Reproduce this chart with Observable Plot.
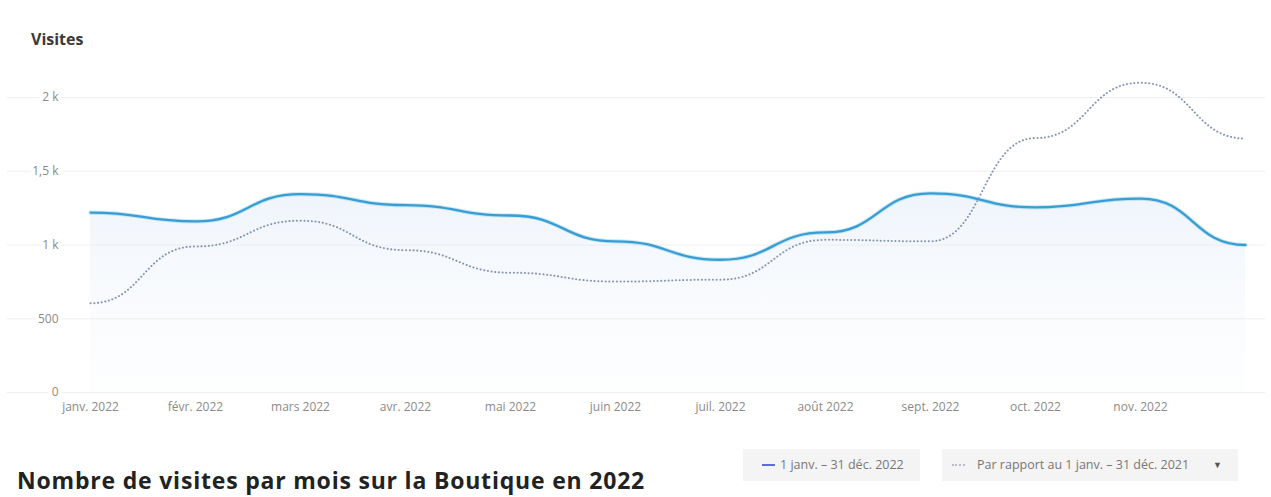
<!DOCTYPE html>
<html><head><meta charset="utf-8">
<script src="https://cdn.jsdelivr.net/npm/d3@7"></script>
<script src="https://cdn.jsdelivr.net/npm/@observablehq/plot@0.6"></script>
<style>
html,body{margin:0;padding:0;background:#fff;}
#wrap{position:relative;width:1271px;height:497px;overflow:hidden;font-family:"Open Sans",sans-serif;}
#chart{position:absolute;left:0;top:0;}
#ytitle{position:absolute;left:31px;top:30px;font-size:16px;font-weight:700;color:#3a3a3a;line-height:18px;}
.leg{position:absolute;top:449px;height:32px;background:#f4f4f4;color:#777;font-size:12.5px;line-height:32px;white-space:nowrap;}
.leg .sw{position:absolute;top:15px;width:13px;height:0;}
#title{position:absolute;left:17px;top:465px;font-family:"Open Sans",sans-serif;font-weight:700;font-size:23px;line-height:30px;color:#222;white-space:nowrap;letter-spacing:0.8px;}
</style>
</head><body>
<div id="wrap">
  <div id="chart"></div>
  <div id="ytitle">Visites</div>
  <div class="leg" id="leg1" style="left:743px;width:177px;">
    <span class="sw" style="left:19px;border-top:2px solid #5a6fd0;"></span>
    <span style="position:absolute;left:37px;">1 janv. – 31 déc. 2022</span>
  </div>
  <div class="leg" id="leg2" style="left:942px;width:296px;">
    <span class="sw" style="left:10px;border-top:2px dotted #b5bccb;"></span>
    <span style="position:absolute;left:35px;">Par rapport au 1 janv. – 31 déc. 2021</span>
    <span style="position:absolute;left:271px;font-size:9px;color:#555;">&#9660;</span>
  </div>
  <div id="title">Nombre de visites par mois sur la Boutique en 2022</div>
</div>
<script>
const months = ["janv. 2022","févr. 2022","mars 2022","avr. 2022","mai 2022","juin 2022","juil. 2022","août 2022","sept. 2022","oct. 2022","nov. 2022","déc. 2022"];
const visits2022 = [1220, 1160, 1345, 1270, 1200, 1025, 900, 1085, 1350, 1255, 1315, 1000];
const visits2021 = [605, 990, 1165, 965, 812, 752, 765, 1035, 1025, 1725, 2100, 1722];
const yTicks = [0, 500, 1000, 1500, 2000];
const yTickLabels = ["0", "500", "1 k", "1,5 k", "2 k"];
const xTickLabels = months.slice(0, 11);

const cur = months.map((m, i) => ({month: m, v: visits2022[i]}));
const prev = months.map((m, i) => ({month: m, v: visits2021[i]}));
const yLab = yTicks.map((t, i) => ({t, label: yTickLabels[i]}));

const chart = Plot.plot({
  width: 1271, height: 440,
  marginLeft: 85, marginRight: 21, marginTop: 97, marginBottom: 48,
  x: {type: "point", domain: months, padding: 0, axis: null},
  y: {domain: [0, 2000], axis: null},
  style: {background: "transparent", fontFamily: "'Open Sans', sans-serif", overflow: "visible"},
  marks: [
    Plot.ruleY(yTicks, {stroke: "#eeeeee", strokeWidth: 1, insetLeft: -78, insetRight: -15}),
    Plot.areaY(cur, {x: "month", y: "v", curve: "bump-x", fill: "url(#areaGrad)"}),
    Plot.line(prev, {x: "month", y: "v", curve: "bump-x", stroke: "#8495b2", strokeWidth: 2, strokeDasharray: "0.1,3.6", strokeLinecap: "round"}),
    Plot.line(cur, {x: "month", y: "v", curve: "bump-x", stroke: "#9fd8f2", strokeWidth: 4.2, strokeOpacity: 0.6}),
    Plot.line(cur, {x: "month", y: "v", curve: "bump-x", stroke: "#3a9cd3", strokeWidth: 2.3}),
    Plot.text(yLab, {y: "t", text: "label", frameAnchor: "left", dx: -27, textAnchor: "end", fill: "#8a8a8a", stroke: "white", strokeWidth: 8, paintOrder: "stroke", fontSize: 12}),
    Plot.text(xTickLabels, {x: d => d, text: d => d, frameAnchor: "bottom", dy: 18, fill: "#8a8a8a", fontSize: 12})
  ]
});

const defs = document.createElementNS("http://www.w3.org/2000/svg", "defs");
defs.innerHTML = '<linearGradient id="areaGrad" gradientUnits="userSpaceOnUse" x1="0" y1="190" x2="0" y2="392">' +
  '<stop offset="0" stop-color="#dfeaf7" stop-opacity="0.5"/>' +
  '<stop offset="1" stop-color="#eef3fa" stop-opacity="0.08"/></linearGradient>';
chart.insertBefore(defs, chart.firstChild);
document.getElementById("chart").appendChild(chart);
</script>
</body></html>
